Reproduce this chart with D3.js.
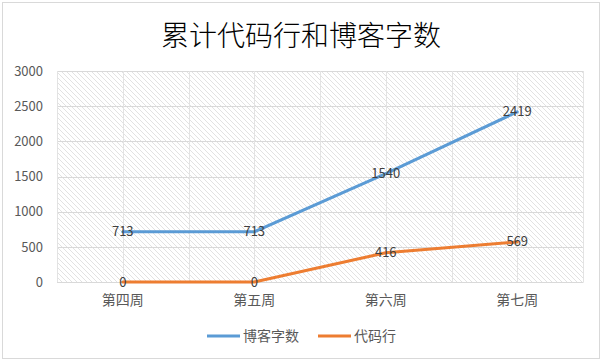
<!DOCTYPE html>
<html><head><meta charset="utf-8">
<script src="https://cdn.jsdelivr.net/npm/d3@7"></script>
<style>body{margin:0;background:#fff;}svg{display:block;}</style>
</head><body>
<svg id="c" width="602" height="361"></svg>
<script>
const categories = ["第四周", "第五周", "第六周", "第七周"];
const blogWords = [713, 713, 1540, 2419];
const codeLines = [0, 0, 416, 569];
const yTicks = [0, 500, 1000, 1500, 2000, 2500, 3000];
const seriesNames = ["博客字数", "代码行"];
const seriesColors = ["#5b9bd5", "#ed7d31"];
const titleText = "累计代码行和博客字数";

const svg = d3.select("#c");
const font = "'Noto Sans CJK SC','Microsoft YaHei',sans-serif";
const m = {left: 57, right: 19, top: 71, bottom: 79};
const W = 602, H = 361;

// chart border
svg.append("rect").attr("x", 2.5).attr("y", 2.5).attr("width", 597).attr("height", 356)
  .attr("fill", "#fff").attr("stroke", "#d9d9d9");

// hatch pattern
const defs = svg.append("defs");
const pat = defs.append("pattern").attr("id", "hatch").attr("patternUnits", "userSpaceOnUse")
  .attr("width", 5).attr("height", 5);
pat.append("rect").attr("width", 5).attr("height", 5).attr("fill", "#fff");
pat.append("path").attr("d", "M-1,-1 L6,6 M-1,4 L1,6 M4,-1 L6,1")
  .attr("stroke", "#e2e2e2").attr("stroke-width", 1);

const x = d3.scaleBand().domain(categories).range([m.left, W - m.right]);
const y = d3.scaleLinear().domain([0, 3000]).range([H - m.bottom, m.top]);

svg.append("rect").attr("x", m.left).attr("y", m.top)
  .attr("width", W - m.right - m.left).attr("height", H - m.bottom - m.top)
  .attr("fill", "url(#hatch)");

// horizontal gridlines
svg.append("g").selectAll("line").data(yTicks).join("line")
  .attr("x1", m.left).attr("x2", W - m.right)
  .attr("y1", d => Math.round(y(d)) + 0.5).attr("y2", d => Math.round(y(d)) + 0.5)
  .attr("stroke", "#d9d9d9");

// vertical gridlines (band edges and centers)
const vx = [];
categories.forEach(c => { vx.push(x(c)); vx.push(x(c) + x.bandwidth() / 2); });
vx.push(x.range()[1]);
svg.append("g").selectAll("line").data(vx).join("line")
  .attr("x1", d => Math.round(d) + 0.5).attr("x2", d => Math.round(d) + 0.5)
  .attr("y1", m.top).attr("y2", H - m.bottom)
  .attr("stroke", "#e3e3e3");

// y axis
const yAxis = d3.axisLeft(y).tickValues(yTicks).tickFormat(d3.format("d")).tickSize(0).tickPadding(14);
const ga = svg.append("g").attr("transform", `translate(${m.left},0)`).call(yAxis);
ga.select(".domain").remove();
ga.selectAll("text").attr("font-family", font).attr("font-size", 13).attr("fill", "#595959");

// x axis
const xAxis = d3.axisBottom(x).tickSize(0).tickPadding(13);
const gx = svg.append("g").attr("transform", `translate(0,${H - m.bottom})`).call(xAxis);
gx.select(".domain").attr("stroke", "#d9d9d9");
gx.selectAll("text").attr("font-family", font).attr("font-size", 14).attr("fill", "#595959");

// lines
const line = d3.line().x((d, i) => x(categories[i]) + x.bandwidth() / 2).y(d => y(d));
[blogWords, codeLines].forEach((s, k) => {
  svg.append("path").datum(s).attr("d", line).attr("fill", "none")
    .attr("stroke", seriesColors[k]).attr("stroke-width", 3).attr("stroke-linejoin", "round")
    .attr("stroke-linecap", "round");
});

// data labels
[blogWords, codeLines].forEach((s, k) => {
  svg.append("g").selectAll("text").data(s).join("text")
    .attr("x", (d, i) => x(categories[i]) + x.bandwidth() / 2)
    .attr("y", d => y(d) + 4.5)
    .attr("text-anchor", "middle")
    .attr("font-family", font).attr("font-size", 13).attr("fill", "#404040")
    .text(d => d);
});

// title
svg.append("text").attr("x", 301).attr("y", 46).attr("text-anchor", "middle")
  .attr("font-family", font).attr("font-size", 28).attr("font-weight", 300).attr("fill", "#000")
  .text(titleText);

// legend
const legX = [207, 318];
seriesNames.forEach((n, k) => {
  const g = svg.append("g");
  g.append("line").attr("x1", legX[k]).attr("x2", legX[k] + 33).attr("y1", 336).attr("y2", 336)
    .attr("stroke", seriesColors[k]).attr("stroke-width", 3);
  g.append("text").attr("x", legX[k] + 36).attr("y", 341).attr("font-family", font)
    .attr("font-size", 14).attr("fill", "#595959").text(n);
});
</script>
</body></html>
